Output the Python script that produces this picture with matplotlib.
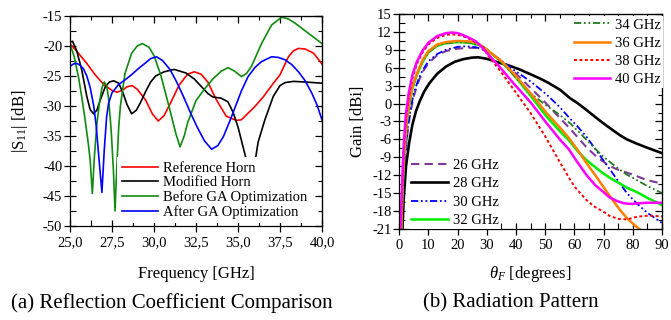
import matplotlib
matplotlib.use('Agg')
import matplotlib.pyplot as plt
from matplotlib.ticker import MultipleLocator, FuncFormatter, NullFormatter

plt.rcParams['font.family'] = ['Liberation Serif', 'DejaVu Serif']
plt.rcParams['mathtext.fontset'] = 'custom'
plt.rcParams['mathtext.rm'] = 'Liberation Serif'
plt.rcParams['mathtext.it'] = 'Liberation Serif:italic'
plt.rcParams['axes.unicode_minus'] = False

# ---------------- (a) Reflection coefficient data ----------------
ref_f = [25.0, 25.5, 26.0, 26.5, 27.0, 27.5, 27.8, 28.1, 28.4, 28.7, 29.0, 29.5, 29.9, 30.25,
         30.6, 31.0, 31.5, 32.0, 32.4, 32.8, 33.2, 33.7, 34.3, 34.9, 35.2, 35.6, 36.0, 36.5,
         37.0, 37.5, 38.0, 38.3, 38.6, 39.0, 39.5, 40.0]
ref_s = [-19.6, -21.2, -22.9, -24.8, -26.4, -27.4, -27.7, -27.4, -26.8, -26.6, -27.2, -29.0, -31.3, -32.5,
         -31.6, -29.4, -26.5, -24.7, -24.3, -24.7, -26.0, -28.9, -31.7, -32.4, -32.3, -31.2, -30.1, -28.5,
         -26.6, -24.8, -21.8, -20.8, -20.4, -20.5, -21.2, -23.0]

mod_f = [25.0, 25.15, 25.4, 25.7, 26.0, 26.2, 26.4, 26.6, 26.8, 27.1, 27.35, 27.6, 27.9, 28.15,
         28.4, 28.67, 28.95, 29.2, 29.5, 29.8, 30.1, 30.6, 31.2, 31.9, 32.4, 32.8, 33.2, 33.5,
         34.0, 34.4, 34.7, 35.0, 35.3, 35.5, 35.75, 36.0, 36.2, 36.6, 37.1, 37.5, 37.8, 38.3,
         39.0, 40.0]
mod_s = [-19.4, -19.2, -20.8, -24.0, -28.4, -30.6, -31.3, -30.7, -29.0, -26.8, -26.0, -25.8, -26.2, -27.8,
         -29.8, -31.3, -30.7, -29.4, -27.6, -26.0, -25.0, -24.3, -23.9, -24.5, -25.5, -26.7, -27.9, -28.5,
         -28.7, -29.3, -31.0, -33.5, -36.8, -39.0, -44.0, -39.5, -36.0, -32.3, -28.4, -26.6, -26.1, -25.9,
         -26.0, -26.2]

bef_f = [25.0, 25.25, 25.5, 25.7, 25.9, 26.1, 26.2, 26.33, 26.45, 26.6, 26.75, 26.9, 27.04, 27.18,
         27.3, 27.45, 27.58, 27.68, 27.78, 27.9, 28.0, 28.27, 28.67, 29.0, 29.3, 29.7, 30.0, 30.4,
         30.95, 31.3, 31.55, 31.8, 32.0, 32.5, 33.0, 33.5, 34.0, 34.4, 34.8, 35.2, 35.5, 35.8,
         36.1, 36.4, 37.0, 37.6, 38.0, 38.4, 39.2, 40.0]
bef_s = [-19.6, -21.8, -25.1, -28.5, -32.3, -36.5, -39.0, -44.6, -38.5, -33.0, -29.5, -27.0, -26.0, -26.6,
         -28.8, -34.0, -40.5, -47.5, -40.5, -33.5, -30.0, -24.6, -21.2, -20.0, -19.6, -20.2, -21.6, -24.8,
         -30.7, -34.6, -36.8, -35.0, -32.8, -29.1, -27.2, -25.5, -24.2, -23.6, -24.2, -25.1, -24.6, -23.4,
         -21.5, -19.6, -16.5, -15.2, -15.5, -16.2, -17.9, -19.6]

aft_f = [25.0, 25.2, 25.4, 25.6, 25.8, 26.0, 26.2, 26.4, 26.55, 26.7, 26.9, 27.04, 27.18, 27.3,
         27.5, 27.9, 28.3, 28.7, 29.1, 29.5, 29.8, 30.15, 30.5, 30.95, 31.35, 31.75, 32.15, 32.55,
         33.0, 33.43, 33.8, 34.13, 34.5, 34.9, 35.2, 35.6, 36.0, 36.4, 37.0, 37.4, 37.8, 38.2,
         38.6, 39.0, 39.4, 39.7, 40.0]
aft_s = [-23.4, -23.0, -22.9, -23.2, -23.8, -25.0, -26.9, -29.8, -33.0, -38.0, -44.4, -37.3, -31.8, -29.5,
         -27.8, -26.4, -25.6, -24.7, -23.7, -22.8, -22.1, -21.8, -22.4, -23.9, -26.0, -28.4, -31.0, -33.4,
         -35.8, -37.2, -36.6, -35.1, -32.6, -29.7, -27.5, -25.1, -23.6, -22.6, -21.8, -21.9, -22.3, -23.1,
         -24.3, -25.8, -27.9, -29.8, -32.3]

s11_labels = ['Reference Horn', 'Modified Horn', 'Before GA Optimization', 'After GA Optimization']
s11_colors = ['#ff0000', '#000000', '#108a10', '#0000ff']

# ---------------- (b) Radiation pattern data ----------------
g26_t = [0, 0.7, 1.3, 2, 3, 4, 5, 6.5, 8, 10, 13, 16, 20, 24, 27, 30, 35, 40, 45, 50, 55, 58.5,
         61.9, 64.5, 67.6, 71, 74, 77, 80, 84.8, 90]
g26_g = [-35, -22, -14.5, -9, -4, -1, 1.3, 3.6, 5.3, 6.8, 8.1, 8.8, 9.2, 9.35, 9.3, 8.8, 7.2, 5.0, 2.6, 0.2,
         -2.4, -4.2, -6.1, -7.5, -8.9, -10.1, -10.9, -11.4, -11.9, -12.8, -13.4]

g28_t = [0, 1.0, 1.5, 2.3, 3.4, 4.5, 5.7, 7, 8.5, 10.3, 13, 16, 19, 22, 25, 27, 30, 34.5, 38, 41.3,
         45, 48.2, 51, 55.1, 58.5, 61, 64.2, 67, 69.9, 73, 75.6, 78, 81.3, 85, 90]
g28_g = [-35, -22, -16, -10.5, -6.5, -3.5, -1.3, 0.4, 2.0, 3.4, 5.0, 6.2, 7.0, 7.45, 7.7, 7.75, 7.5, 6.8,
         6.3, 5.7, 4.9, 4.2, 3.5, 2.3, 0.9, 0.1, -1.1, -2.2, -3.3, -4.4, -5.3, -6.0, -6.7, -7.4, -8.3]

g30_t = [0, 0.7, 1.3, 2, 3, 4, 5, 6.5, 8, 10, 13, 16, 20, 23, 26, 28, 30, 33, 36, 39, 42, 45, 50.5, 55,
         57.9, 61, 64.2, 67, 69.9, 73, 75.6, 78, 81.3, 85, 90]
g30_g = [-35, -22, -14, -8.5, -3.5, -0.5, 1.8, 4.0, 5.6, 7.1, 8.3, 9.0, 9.5, 9.6, 9.45, 9.2, 8.9, 7.9,
         6.8, 5.7, 4.7, 3.7, 1.5, -0.6, -2.2, -3.8, -5.6, -7.5, -9.5, -11.6, -13.4, -15.0, -16.7, -18.3, -20.0]

g32_t = [0, 0.6, 1.1, 1.7, 2.5, 3.5, 4.5, 6, 8, 10, 13, 16, 20, 24, 28, 30, 35, 39.1, 45, 50.5, 55,
         58, 61, 64.2, 67, 69.9, 73, 75.6, 78, 81.3, 85, 90]
g32_g = [-35, -22, -14.5, -8.5, -3.5, 0.2, 2.5, 4.8, 7.0, 8.6, 9.7, 10.1, 10.3, 10.2, 9.7, 9.0, 7.0, 4.9,
         1.3, -2.2, -4.6, -6.1, -7.9, -9.5, -10.6, -11.7, -12.7, -13.4, -14.1, -14.8, -15.8, -17.0]

g34_t = [0, 0.6, 1.1, 1.7, 2.5, 3.5, 4.5, 6, 8, 10, 13, 16, 20, 24, 28, 30, 35, 40, 45, 50, 55,
         58.5, 61, 64.2, 67, 69.9, 73, 75.6, 78, 81.3, 85, 90]
g34_g = [-35, -22, -14, -8.3, -3.2, 0.3, 2.7, 4.9, 7.1, 8.6, 9.7, 10.1, 10.3, 10.2, 9.7, 9.1, 7.0, 4.3,
         1.7, -0.2, -1.9, -3.3, -4.5, -6.1, -7.5, -8.9, -10.1, -11.1, -11.9, -12.8, -13.8, -15.0]

g36_t = [0, 0.6, 1.1, 1.7, 2.5, 3.5, 4.5, 6, 8, 10, 13, 16, 20, 24, 26.3, 28, 30, 35, 39.1, 45, 50.5,
         55, 58, 61, 64.2, 67, 70, 73, 75.6, 78, 80.5, 83, 86, 90]
g36_g = [-35, -22, -14, -8, -3, 0.5, 2.8, 5.0, 7.3, 8.8, 9.9, 10.3, 10.5, 10.4, 10.2, 9.7, 9.0, 7.1,
         5.1, 1.7, -1.6, -4.0, -5.7, -7.7, -10.0, -11.9, -14.0, -16.1, -17.8, -19.2, -20.3, -21.3, -22.5, -24.0]

g38_t = [0, 0.5, 1.0, 1.5, 2.3, 3.3, 4.5, 6, 8, 10, 13, 16, 18, 20, 22.9, 26, 28.6, 30, 35, 40, 45,
         50, 55, 58, 60, 64.2, 67, 69.9, 72, 75, 78, 81, 84, 87, 90]
g38_g = [-35, -22, -14, -8, -2.5, 1.2, 4.2, 6.6, 8.6, 9.9, 11.0, 11.5, 11.6, 11.5, 11.1, 10.3, 9.6, 8.3,
         5.2, 1.8, -1.6, -5.5, -9.8, -12.3, -13.9, -16.2, -17.3, -18.1, -18.8, -19.3, -19.4, -19.0, -18.8,
         -18.8, -18.9]

g40_t = [0, 0.3, 1.0, 1.5, 2.2, 3.2, 4.5, 6, 8, 10, 13, 16, 18, 20, 21.7, 24, 26.3, 28, 30, 35, 39.1,
         45, 50.5, 55, 58, 61, 64.2, 67, 69.9, 72, 74.5, 77, 79, 82, 85, 90]
g40_g = [-35, -21.5, -13, -7, -2, 1.7, 4.8, 7.0, 8.9, 10.2, 11.3, 11.8, 11.9, 11.8, 11.5, 11.0, 10.4, 9.6,
         8.5, 5.8, 3.4, 0.2, -3.3, -6.0, -7.6, -9.8, -12.0, -13.6, -14.8, -15.7, -16.3, -16.7, -16.8, -16.7,
         -16.6, -16.6]

rp_labels = ['26 GHz', '28 GHz', '30 GHz', '32 GHz', '34 GHz', '36 GHz', '38 GHz', '40 GHz']
rp_colors = ['#7f3a98', '#000000', '#0000ff', '#00ee00', '#1f7a1f', '#ff8000', '#ff0000', '#ff00ff']

fig = plt.figure(figsize=(6.71, 3.2), dpi=100)
axL = fig.add_axes([70 / 671, 1 - 226 / 320, 252 / 671, 210 / 320])
axR = fig.add_axes([399.3 / 671, 1 - 229 / 320, 262.7 / 671, 215 / 320])

FS_TICK = 10.5
FS_LAB = 12
FS_LEG = 10.5


def style_axes(ax, xmaj, xmin, ymaj, ymin, xfmt=None):
    ax.xaxis.set_major_locator(MultipleLocator(xmaj))
    ax.xaxis.set_minor_locator(MultipleLocator(xmin))
    ax.yaxis.set_major_locator(MultipleLocator(ymaj))
    ax.yaxis.set_minor_locator(MultipleLocator(ymin))
    if xfmt is not None:
        ax.xaxis.set_major_formatter(xfmt)
    ax.tick_params(which='major', direction='inout', length=8, width=0.9, labelsize=FS_TICK)
    ax.tick_params(which='minor', direction='in', length=4, width=0.8)
    ax.tick_params(axis='y', which='major', pad=1.5)
    ax.tick_params(axis='x', which='major', pad=3)
    for sp in ax.spines.values():
        sp.set_linewidth(0.9)
    sx = ax.secondary_xaxis('top')
    sx.xaxis.set_major_locator(MultipleLocator(xmaj))
    sx.xaxis.set_minor_locator(MultipleLocator(xmin))
    sx.xaxis.set_major_formatter(NullFormatter())
    sx.tick_params(which='major', direction='in', length=5, width=0.9)
    sx.tick_params(which='minor', direction='in', length=3, width=0.8)
    sy = ax.secondary_yaxis('right')
    sy.yaxis.set_major_locator(MultipleLocator(ymaj))
    sy.yaxis.set_minor_locator(MultipleLocator(ymin))
    sy.yaxis.set_major_formatter(NullFormatter())
    sy.tick_params(which='major', direction='in', length=5, width=0.9)
    sy.tick_params(which='minor', direction='in', length=3, width=0.8)


# ---------------- Left panel ----------------
for fx, sx_, c, lab in zip([ref_f, mod_f, bef_f, aft_f], [ref_s, mod_s, bef_s, aft_s], s11_colors, s11_labels):
    axL.plot(fx, sx_, color=c, lw=1.2, label=lab)
axL.set_xlim(25, 40)
axL.set_ylim(-50, -15)
style_axes(axL, 2.5, 1.25, 5, 2.5, FuncFormatter(lambda v, p: f"{v:.1f}".replace('.', ',')))
axL.set_xlabel('Frequency [GHz]', fontsize=FS_LAB)
axL.set_ylabel('|S$_{11}$| [dB]', fontsize=FS_LAB)
axL.xaxis.set_label_coords(0.5, -0.19)
axL.yaxis.set_label_coords(-0.16, 0.5)
axL.legend(loc='lower left', bbox_to_anchor=(0.188, 0.012), frameon=True, fancybox=False,
           edgecolor='none', facecolor='white', framealpha=1, borderpad=0.3, borderaxespad=0,
           handlelength=2.47, handletextpad=0.35, labelspacing=0.08, fontsize=FS_LEG)

# ---------------- Right panel ----------------
styles = [dict(ls=(0, (4, 2.5)), lw=1.5),
          dict(ls='-', lw=1.9),
          dict(ls=(0, (4, 1.5, 1, 1.5, 1, 1.5)), lw=1.3),
          dict(ls='-', lw=1.8),
          dict(ls=(0, (4, 1.5, 1, 1.5, 1, 1.5)), lw=1.3),
          dict(ls='-', lw=1.8),
          dict(ls=(0, (1.5, 1.3)), lw=1.4),
          dict(ls='-', lw=1.8)]
series_t = [g26_t, g28_t, g30_t, g32_t, g34_t, g36_t, g38_t, g40_t]
series_g = [g26_g, g28_g, g30_g, g32_g, g34_g, g36_g, g38_g, g40_g]
lines = []
for t, g, c, lab, st in zip(series_t, series_g, rp_colors, rp_labels, styles):
    ln, = axR.plot(t, g, color=c, label=lab, **st)
    lines.append(ln)
axR.set_xlim(0, 90)
axR.set_ylim(-21, 15)
style_axes(axR, 10, 5, 3, 1.5)
axR.set_xlabel(r'$\theta_F$ [degrees]', fontsize=FS_LAB)
axR.set_ylabel('Gain [dBi]', fontsize=FS_LAB)
axR.xaxis.set_label_coords(0.5, -0.165)
axR.yaxis.set_label_coords(-0.125, 0.5)

leg1 = axR.legend(lines[:4], rp_labels[:4], loc='lower left', bbox_to_anchor=(0.038, 0.0), frameon=True,
                  fancybox=False, edgecolor='none', facecolor='white', framealpha=1, borderpad=0.15,
                  borderaxespad=0, handlelength=2.5, handletextpad=0.35, labelspacing=0.34, fontsize=FS_LEG)
axR.add_artist(leg1)
axR.legend(lines[4:], rp_labels[4:], loc='upper left', bbox_to_anchor=(0.655, 0.99), frameon=True,
           fancybox=False, edgecolor='none', facecolor='white', framealpha=1, borderpad=0.15,
           borderaxespad=0, handlelength=2.5, handletextpad=0.35, labelspacing=0.34, fontsize=FS_LEG)

fig.text(171.7 / 671, 1 - 303 / 320, '(a) Reflection Coefficient Comparison', ha='center', va='center',
         fontsize=15)
fig.text(510.8 / 671, 1 - 303 / 320, '(b) Radiation Pattern', ha='center', va='center', fontsize=15)

fig.savefig('out.png', dpi=100)
